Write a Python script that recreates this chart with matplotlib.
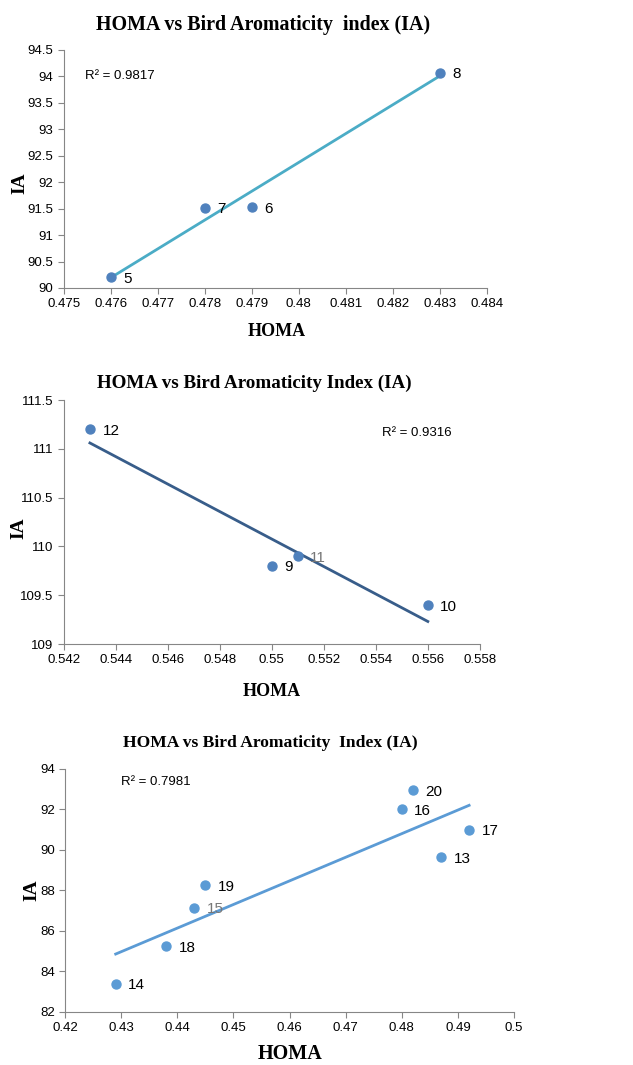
import matplotlib
matplotlib.use("Agg")
import matplotlib.pyplot as plt
import numpy as np

# chart 1
homa_1 = [0.476, 0.479, 0.478, 0.483]
ia_1 = [90.2, 91.53, 91.52, 94.07]
names_1 = ["5", "6", "7", "8"]
r2_1 = "R² = 0.9817"

# chart 2
homa_2 = [0.550, 0.556, 0.551, 0.543]
ia_2 = [109.8, 109.4, 109.9, 111.2]
names_2 = ["9", "10", "11", "12"]
r2_2 = "R² = 0.9316"

# chart 3
homa_3 = [0.487, 0.429, 0.443, 0.480, 0.492, 0.438, 0.445, 0.482]
ia_3 = [89.65, 83.4, 87.15, 92.0, 91.0, 85.25, 88.25, 92.95]
names_3 = ["13", "14", "15", "16", "17", "18", "19", "20"]
r2_3 = "R² = 0.7981"

SERIF = ["Liberation Serif", "DejaVu Serif"]
SANS = ["Liberation Sans", "DejaVu Sans"]
plt.rcParams["font.family"] = SANS


def draw(ax, x, y, names, r2, r2pos, title, title_pos, title_size,
         xlim, xticks, ylim, yticks, dot_col, line_col, grey_labels,
         xlab_pos, xlab_size, ylab_pos):
    x = np.array(x)
    y = np.array(y)
    k, b = np.polyfit(x, y, 1)
    xs = np.array([x.min(), x.max()])
    ax.plot(xs, k * xs + b, color=line_col, lw=2, zorder=2)
    ax.scatter(x, y, s=42, color=dot_col, zorder=3)
    for xi, yi, n in zip(x, y, names):
        c = "#777777" if n in grey_labels else "black"
        ax.annotate(n, (xi, yi), xytext=(9, -4), textcoords="offset points",
                    fontsize=11, color=c)
    ax.text(r2pos[0], r2pos[1], r2, transform=ax.transAxes, fontsize=9.5,
            va="center")
    ax.set_xlim(xlim)
    ax.set_ylim(ylim)
    ax.set_xticks(xticks)
    ax.set_yticks(yticks)
    ax.set_xticklabels([f"{t:g}" for t in xticks])
    ax.set_yticklabels([f"{t:g}" for t in yticks])
    for s in ["top", "right"]:
        ax.spines[s].set_visible(False)
    for s in ["left", "bottom"]:
        ax.spines[s].set_color("#868686")
    ax.tick_params(direction="out", length=4, color="#868686", labelsize=9.5)
    ax.set_xlabel("HOMA", family=SERIF, fontweight="bold", fontsize=xlab_size)
    ax.xaxis.set_label_coords(*xlab_pos)
    ax.set_ylabel("IA", family=SERIF, fontweight="bold", fontsize=14)
    ax.yaxis.set_label_coords(*ylab_pos)
    ax.text(title_pos[0], title_pos[1], title, transform=ax.transAxes,
            family=SERIF, fontweight="bold", fontsize=title_size,
            ha="center", va="center")


fig = plt.figure(figsize=(6.33, 10.65), dpi=100)

ax1 = fig.add_axes([0.101, 0.7296, 0.668, 0.2235])
draw(ax1, homa_1, ia_1, names_1, r2_1, (0.05, 0.89),
     "HOMA vs Bird Aromaticity  index (IA)", (0.47, 1.105), 14.4,
     (0.475, 0.484), np.round(np.arange(0.475, 0.4841, 0.001), 3),
     (90, 94.5), np.arange(90, 94.51, 0.5),
     "#4F81BD", "#4BACC6", [],
     (0.503, -0.147), 13, (-0.085, 0.44))

ax2 = fig.add_axes([0.101, 0.3953, 0.657, 0.2291])
draw(ax2, homa_2, ia_2, names_2, r2_2, (0.764, 0.865),
     "HOMA vs Bird Aromaticity Index (IA)", (0.457, 1.07), 13.7,
     (0.542, 0.558), np.round(np.arange(0.542, 0.5581, 0.002), 3),
     (109, 111.5), np.arange(109, 111.51, 0.5),
     "#4F81BD", "#385D8A", ["11"],
     (0.5, -0.16), 13, (-0.089, 0.475))

ax3 = fig.add_axes([0.103, 0.0498, 0.709, 0.2282])
draw(ax3, homa_3, ia_3, names_3, r2_3, (0.125, 0.947),
     "HOMA vs Bird Aromaticity  Index (IA)", (0.457, 1.107), 12.6,
     (0.42, 0.5), np.round(np.arange(0.42, 0.501, 0.01), 2),
     (82, 94), np.arange(82, 94.1, 2),
     "#5B9BD5", "#5B9BD5", ["15"],
     (0.5, -0.13), 14.5, (-0.056, 0.5))

fig.savefig("out.png", dpi=100)
